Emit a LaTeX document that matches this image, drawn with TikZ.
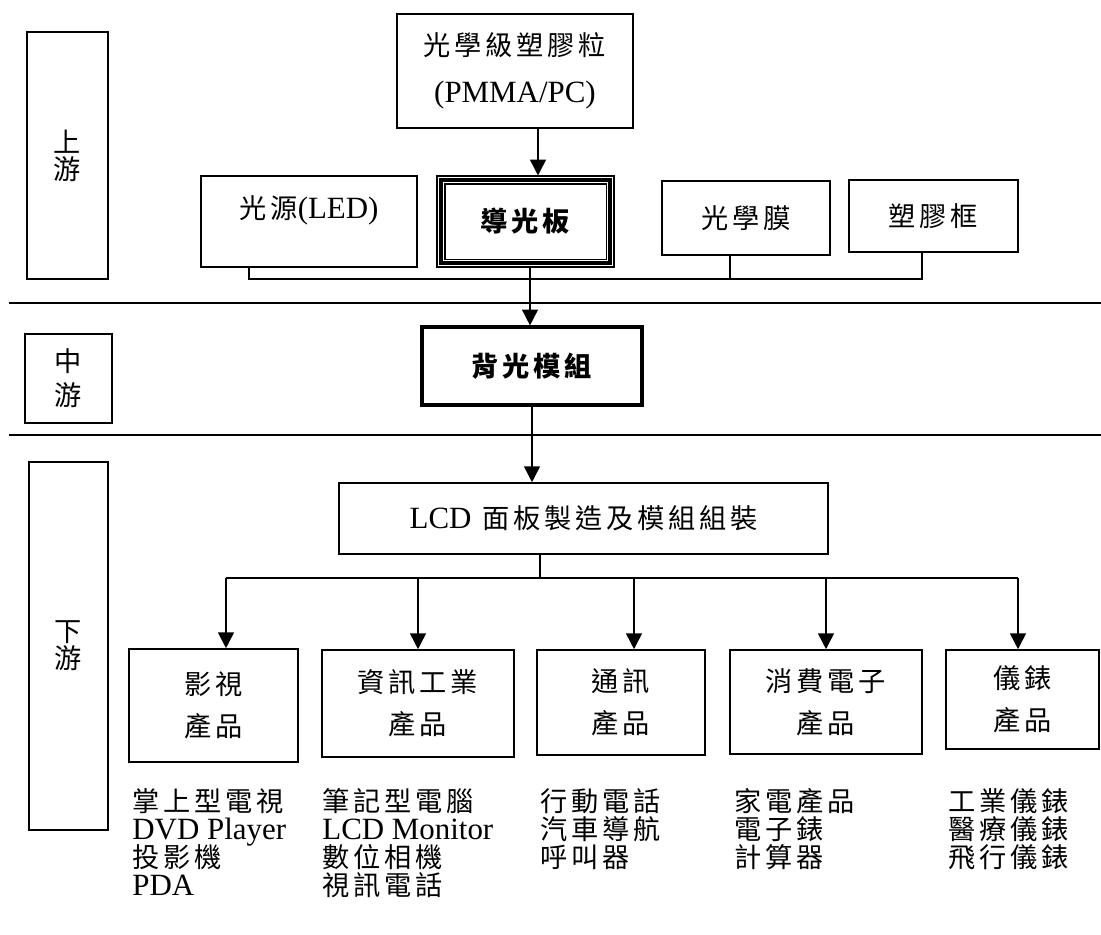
\documentclass[tikz,border=0pt]{standalone}
\usepackage{fontspec}
\setmainfont{Liberation Serif}
\newfontfamily\zh[Scale=0.88,LetterSpace=14]{Noto Sans CJK TC}
\usetikzlibrary{arrows.meta}
\usetikzlibrary{calc}

\begin{document}
\begin{tikzpicture}[x=0.02cm,y=-0.02cm,
		box/.style={draw,line width=0.9pt,inner sep=0pt,align=center},
		sz/.style 2 args={minimum width=#1*0.02cm,minimum height=#2*0.02cm},
		zhf/.style={font={\fontsize{17.6pt}{#1}\selectfont\zh\lineskiplimit=-100pt}},
		rmf/.style={font={\fontsize{17.6pt}{#1}\selectfont\lineskiplimit=-100pt}},
		list/.style={anchor=north west,inner sep=0pt,align=left,rmf=16pt},
		arr/.style={-{Triangle[length=9pt,width=9pt]},line width=0.9pt},
		wire/.style={line width=0.9pt}]
			\useasboundingbox (0,0) rectangle (1101,934);
			\node [box,sz={81}{247},zhf=15.3pt] (up) at (67.5,155.5) {上\\游};
			\node [box,sz={87}{89},zhf=19.3pt] (mid) at (68.5,378.5) {中\\游};
			\node [box,sz={79}{368},zhf=15.3pt] (down) at (68.5,646) {下\\游};
			\draw [wire] (9,303) -- (1101,303);
			\draw [wire] (9,435) -- (1101,435);
			\node [box,sz={236}{114},zhf=26.6pt] (pmma) at (515,71) {光學級塑膠粒\\\rmfamily (PMMA/PC)};
			\node [box,sz={216}{91},zhf=20pt,text depth=0.58cm] (led) at (309,221.5) {光源{\rmfamily (LED)}};
			\node [box,line width=0.6pt,sz={177}{91},zhf=20pt] (gp) at (525.5,221.5) {\bfseries 導光板};
			\draw [line width=1.8pt] ([shift={(4.5,4.5)}]gp.north west) rectangle ([shift={(-4.5,-4.5)}]gp.south east);
			\draw [line width=0.6pt] ([shift={(8.5,8.5)}]gp.north west) rectangle ([shift={(-8.5,-8.5)}]gp.south east);
			\node [box,sz={168}{74},zhf=20pt] (film) at (746,218) {光學膜};
			\node [box,sz={169}{72},zhf=20pt] (frame) at (933.5,216) {塑膠框};
			\node [box,line width=1.8pt,sz={220}{78},zhf=20pt] (blu) at (532,366) {\bfseries 背光模組};
			\node [box,sz={489}{71},rmf=20pt] (lcd) at (583.5,518.5) {LCD\hspace{6pt}{\zh 面板製造及模組組裝}};
			\node [box,sz={169}{113},zhf=23.8pt] (av) at (213.5,705.5) {影視\\產品};
			\node [box,sz={192}{107},zhf=23.8pt] (info) at (418,703.5) {資訊工業\\產品};
			\node [box,sz={168}{105},zhf=23.8pt] (comm) at (621,702.5) {通訊\\產品};
			\node [box,sz={192}{104},zhf=23.8pt] (cons) at (826,702) {消費電子\\產品};
			\node [box,sz={153}{99},zhf=23.8pt] (inst) at (1022.5,699.5) {儀錶\\產品};
			\node [list] (avl) at (132,788) {{\zh 掌上型電視}\\DVD Player\\{\zh 投影機}\\PDA};
			\node [list] (infol) at (322,788) {{\zh 筆記型電腦}\\LCD Monitor\\{\zh 數位相機}\\{\zh 視訊電話}};
			\node [list] (comml) at (540,788) {{\zh 行動電話}\\{\zh 汽車導航}\\{\zh 呼叫器}};
			\node [list] (consl) at (734,788) {{\zh 家電產品}\\{\zh 電子錶}\\{\zh 計算器}};
			\node [list] (instl) at (948,788) {{\zh 工業儀錶}\\{\zh 醫療儀錶}\\{\zh 飛行儀錶}};
			\coordinate (pin) at ($(pmma.south)+(23,0)$);
			\draw [arr] (pin) -- (pin |- gp.north);
			\coordinate (busL) at (249,279);
			\coordinate (busM) at (530,279);
			\coordinate (busF) at (730,279);
			\coordinate (busR) at (922,279);
			\draw [wire] (led.south -| busL) -- (busL) -- (busR) -- (frame.south -| busR);
			\draw [wire] (film.south -| busF) -- (busF);
			\draw [wire] (gp.south -| busM) -- (busM);
			\draw [arr] (busM) -- (blu.north -| busM);
			\draw [arr] (blu.south) -- (blu.south |- lcd.north);
			\coordinate (hub) at (540,578);
			\draw [wire] (lcd.south -| hub) -- (hub);
			\foreach \n/\x in {av/226,info/418,comm/634,cons/826,inst/1018}{
				\coordinate (d\n) at (\x,578);
				\draw [arr] (d\n) -- (d\n |- \n.north);
			}
			\draw [wire] (dav) -- (dinst);
\end{tikzpicture}
\end{document}
